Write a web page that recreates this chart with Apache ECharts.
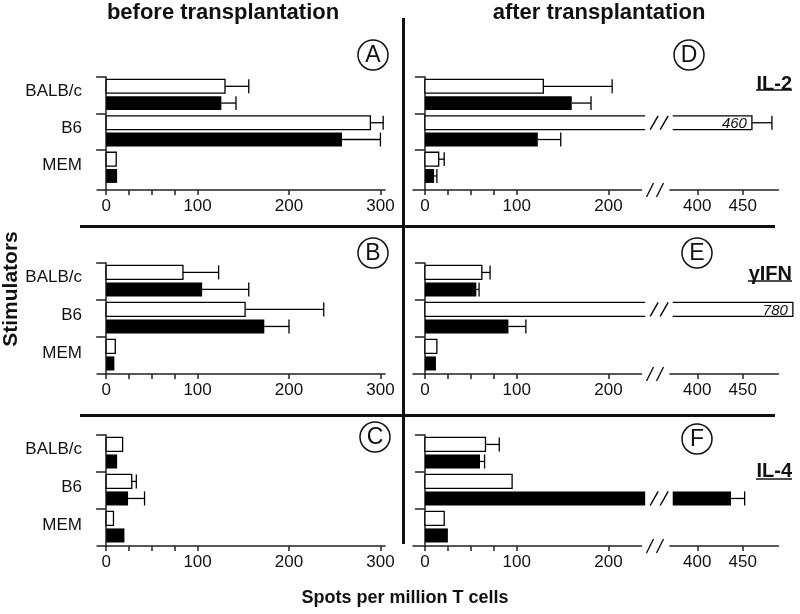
<!DOCTYPE html>
<html><head><meta charset="utf-8">
<script src="https://cdn.jsdelivr.net/npm/echarts@6/dist/echarts.min.js"></script>
<style>html,body{margin:0;padding:0;background:#fff}#c{width:800px;height:614px}</style>
</head><body><div id="c"></div>
<script>
// ---------------- data ----------------
const stimulators = ['BALB/c', 'B6', 'MEM'];
const panelLetters = ['A', 'B', 'C', 'D', 'E', 'F'];
const cytokines = ['IL-2', 'γIFN', 'IL-4'];
const columnTitles = ['before transplantation', 'after transplantation'];
const xAxisName = 'Spots per million T cells';
const yAxisName = 'Stimulators';
const xLabelsBefore = [0, 100, 200, 300];
const xTicksBefore = [0, 25, 50, 75, 100, 200, 300];
const xLabelsAfterLow = [0, 100, 200];
const xTicksAfterLow = [0, 25, 50, 75, 100, 200];
const xLabelsAfterHigh = [400, 450];

// open = white bars, filled = black bars; *Err = end of the error bar
const A_open = [130, 289, 11];
const A_openErr = [156, 303, null];
const A_filled = [126, 258, 12];
const A_filledErr = [142, 300, null];

const B_open = [84, 152, 10];
const B_openErr = [123, 238, null];
const B_filled = [105, 173, 9];
const B_filledErr = [156, 200, null];

const C_open = [18, 28, 8];
const C_openErr = [null, 33, null];
const C_filled = [12, 24, 20];
const C_filledErr = [null, 42, null];

const D_open = [129, 460, 15];
const D_openErr = [204, 482, 21];
const D_filled = [160, 123, 10];
const D_filledErr = [181, 148, 13];

const E_open = [62, 780, 13];
const E_openErr = [71, null, null];
const E_filled = [56, 91, 12];
const E_filledErr = [59, 110, null];

const F_open = [66, 95, 21];
const F_openErr = [81, null, null];
const F_filled = [60, 437, 25];
const F_filledErr = [65, 452, null];

// ---------------- layout / style ----------------
const FONT = '"Liberation Sans", Arial, sans-serif';
const NARROW = '"Liberation Sans Narrow", "Liberation Sans", Arial, sans-serif';
const AX = '#222';
const rows = [
  {top: 77, height: 113, yMax: 3.1},
  {top: 263, height: 111, yMax: 3.0},
  {top: 435, height: 111, yMax: 3.0}
];
const LEFT = {left: 97, width: 288, min: -10, max: 305};
const LOW = {left: 413, width: 228.5, min: -13, max: 236};
const HIGH = {left: 670, width: 108.3, min: 370, max: 489};
const LOW_BAR_END = 240, HIGH_BAR_START = 373, HIGH_BAR_CAP = 505;

const panels = [
  {row: 0, after: false, o: A_open, oe: A_openErr, f: A_filled, fe: A_filledErr},
  {row: 1, after: false, o: B_open, oe: B_openErr, f: B_filled, fe: B_filledErr},
  {row: 2, after: false, o: C_open, oe: C_openErr, f: C_filled, fe: C_filledErr},
  {row: 0, after: true, o: D_open, oe: D_openErr, f: D_filled, fe: D_filledErr},
  {row: 1, after: true, o: E_open, oe: E_openErr, f: E_filled, fe: E_filledErr},
  {row: 2, after: true, o: F_open, oe: F_openErr, f: F_filled, fe: F_filledErr}
];

function items(p) {
  const out = [];
  stimulators.forEach((s, i) => {
    out.push([i, 0, p.o[i], p.oe[i] == null ? NaN : p.oe[i]]);
    out.push([i, 1, p.f[i], p.fe[i] == null ? NaN : p.fe[i]]);
  });
  return out;
}

function makeRender(part) {
  return function (params, api) {
    const cat = api.value(0), kind = api.value(1), v = api.value(2), e = api.value(3);
    const band = Math.abs(api.size([0, 1])[1]);
    const h = band * 0.38;
    const yc = api.coord([0, cat + (kind === 0 ? 0.255 : 0.715)])[1];
    const y0 = yc - h / 2, y1 = yc + h / 2;
    const X = val => api.coord([val, 0])[0];
    const ch = [];
    let xs, xe, openRight = false, openLeft = false;
    if (part === 'low') {
      xs = X(0);
      if (v > LOW.max) { openRight = true; xe = X(LOW_BAR_END); } else xe = X(v);
    } else if (part === 'high') {
      if (!(v > HIGH.min)) return null;
      openLeft = true; xs = X(HIGH_BAR_START); xe = X(Math.min(v, HIGH_BAR_CAP));
    } else { xs = X(0); xe = X(v); }
    const ls = {stroke: '#000', lineWidth: 1.3, fill: null};
    if (kind === 1) {
      ch.push({type: 'rect', shape: {x: xs, y: y0, width: xe - xs, height: h}, style: {fill: '#000'}});
    } else {
      ch.push({type: 'rect', shape: {x: xs, y: y0, width: xe - xs, height: h}, style: {fill: '#fff'}});
      let pts;
      if (openRight) pts = [[xe, y0], [xs, y0], [xs, y1], [xe, y1]];
      else if (openLeft) pts = [[xs, y0], [xe, y0], [xe, y1], [xs, y1]];
      else pts = [[xs, y0], [xe, y0], [xe, y1], [xs, y1], [xs, y0]];
      ch.push({type: 'polyline', shape: {points: pts}, style: ls});
    }
    if (openRight) {
      [5, 15].forEach(dx => ch.push({type: 'line', shape: {x1: xe + dx, y1: y1, x2: xe + dx + 8, y2: y0},
        style: {stroke: '#000', lineWidth: 1.4}}));
    }
    if (isFinite(e) && !openRight) {
      const xr = X(e);
      ch.push({type: 'line', shape: {x1: xe, y1: yc, x2: xr, y2: yc}, style: {stroke: '#000', lineWidth: 1.3}});
      ch.push({type: 'line', shape: {x1: xr, y1: y0, x2: xr, y2: y1}, style: {stroke: '#000', lineWidth: 1.3}});
    }
    if (part === 'high' && kind === 0) {
      ch.push({type: 'text', style: {text: String(v), x: xe - 5, y: yc + 1, align: 'right', verticalAlign: 'middle',
        textAlign: 'right', textVerticalAlign: 'middle',
        fontSize: 15, fontStyle: 'italic', fontFamily: FONT, fill: '#111'}});
    }
    return {type: 'group', children: ch};
  };
}

function renderAxisBreak(params, api) {
  const cs = params.coordSys;
  const x = cs.x + cs.width, y = cs.y + cs.height;
  return {type: 'group', children: [5, 15].map(dx => ({type: 'line',
    shape: {x1: x + dx, y1: y + 7, x2: x + dx + 7, y2: y - 7}, style: {stroke: '#111', lineWidth: 1.4}}))};
}

const grid = [], xAxis = [], yAxis = [], series = [];

function xCfg(gi, seg, ticks, labels) {
  return {type: 'value', gridIndex: gi, min: seg.min, max: seg.max, position: 'bottom',
    axisLine: {show: true, onZero: false, lineStyle: {color: AX, width: 1.5}},
    axisTick: {show: true, customValues: ticks, length: 5, lineStyle: {color: AX, width: 1.5}},
    axisLabel: {show: true, customValues: labels, fontSize: 17, fontFamily: NARROW, color: '#111', margin: 8},
    splitLine: {show: false}};
}
function yCfg(gi, yMax, show, showLabels) {
  return {type: 'value', gridIndex: gi, min: 0, max: yMax, inverse: true, show: show,
    axisLine: {show: true, onZero: true, lineStyle: {color: AX, width: 1.5}},
    axisTick: {show: true, customValues: [0, 1, 2], length: 10, lineStyle: {color: AX, width: 1.5}},
    axisLabel: {show: showLabels, customValues: [0.38, 1.42, 2.43],
      formatter: v => stimulators[Math.floor(v)] || '',
      margin: 15, fontSize: 17, fontFamily: FONT, color: '#111'},
    splitLine: {show: false}};
}

panels.forEach(p => {
  const r = rows[p.row];
  const data = items(p);
  if (!p.after) {
    const gi = grid.length;
    grid.push({left: LEFT.left, width: LEFT.width, top: r.top, height: r.height});
    xAxis.push(xCfg(gi, LEFT, xTicksBefore, xLabelsBefore));
    yAxis.push(yCfg(gi, r.yMax, true, true));
    series.push({type: 'custom', xAxisIndex: gi, yAxisIndex: gi, clip: false, silent: true,
      encode: {x: 2, y: 0}, renderItem: makeRender('single'), data: data});
  } else {
    const g1 = grid.length;
    grid.push({left: LOW.left, width: LOW.width, top: r.top, height: r.height});
    xAxis.push(xCfg(g1, LOW, xTicksAfterLow, xLabelsAfterLow));
    yAxis.push(yCfg(g1, r.yMax, true, false));
    const g2 = grid.length;
    grid.push({left: HIGH.left, width: HIGH.width, top: r.top, height: r.height});
    xAxis.push(xCfg(g2, HIGH, xLabelsAfterHigh, xLabelsAfterHigh));
    yAxis.push(yCfg(g2, r.yMax, false, false));
    series.push({type: 'custom', xAxisIndex: g1, yAxisIndex: g1, clip: false, silent: true,
      encode: {x: 2, y: 0}, renderItem: makeRender('low'), data: data});
    series.push({type: 'custom', xAxisIndex: g2, yAxisIndex: g2, clip: false, silent: true,
      encode: {x: 2, y: 0}, renderItem: makeRender('high'), data: data});
    series.push({type: 'custom', xAxisIndex: g1, yAxisIndex: g1, clip: false, silent: true,
      encode: {x: 0, y: 1}, renderItem: renderAxisBreak, data: [[0, 0]]});
  }
});

// ---------------- decorations ----------------
function txt(text, x, y, opts) {
  return Object.assign({type: 'text', x: x, y: y, silent: true,
    style: Object.assign({text: text, x: 0, y: 0, align: 'center', verticalAlign: 'middle',
      textAlign: 'center', textVerticalAlign: 'middle', fontFamily: FONT, fill: '#111'}, opts.style || {})},
    opts.el || {});
}
const letterPos = [[373, 55], [373, 253], [375, 437], [689, 55], [697, 253], [697, 439]];
const cytoPos = [[792, 83, 90], [792, 273, 281], [792, 470, 479]];
const cytoW = [36, 44, 36];
const graphic = [];
graphic.push(txt(columnTitles[0], 223, 13, {style: {fontSize: 22, fontWeight: 'bold'}}));
graphic.push(txt(columnTitles[1], 599, 13, {style: {fontSize: 22, fontWeight: 'bold'}}));
graphic.push(txt(xAxisName, 405, 598, {style: {fontSize: 18, fontWeight: 'bold'}}));
graphic.push(txt(yAxisName, 11, 289, {style: {fontSize: 21, fontWeight: 'bold'}, el: {rotation: Math.PI / 2}}));
graphic.push({type: 'line', silent: true, shape: {x1: 403.5, y1: 18, x2: 403.5, y2: 544}, style: {stroke: '#111', lineWidth: 3}});
graphic.push({type: 'line', silent: true, shape: {x1: 80, y1: 226.5, x2: 775, y2: 226.5}, style: {stroke: '#111', lineWidth: 3}});
graphic.push({type: 'line', silent: true, shape: {x1: 80, y1: 415.5, x2: 775, y2: 415.5}, style: {stroke: '#111', lineWidth: 3}});
panelLetters.forEach((L, i) => {
  const [cx, cy] = letterPos[i];
  graphic.push({type: 'circle', silent: true, shape: {cx: cx, cy: cy, r: 15}, style: {fill: null, stroke: '#111', lineWidth: 1.5}});
  graphic.push(txt(L, cx, cy + 1, {style: {fontSize: 23}}));
});
cytokines.forEach((c, i) => {
  const [xr, y, yu] = cytoPos[i];
  graphic.push(txt(c, xr, y + 1, {style: {fontSize: 20, fontWeight: 'bold', align: 'right', textAlign: 'right'}}));
  graphic.push({type: 'line', silent: true, shape: {x1: xr - cytoW[i], y1: yu, x2: xr, y2: yu}, style: {stroke: '#111', lineWidth: 1.5}});
});

const chart = echarts.init(document.getElementById('c'), null, {renderer: 'canvas', devicePixelRatio: 1});
chart.setOption({animation: false, backgroundColor: '#fff', grid, xAxis, yAxis, series, graphic});
</script></body></html>
